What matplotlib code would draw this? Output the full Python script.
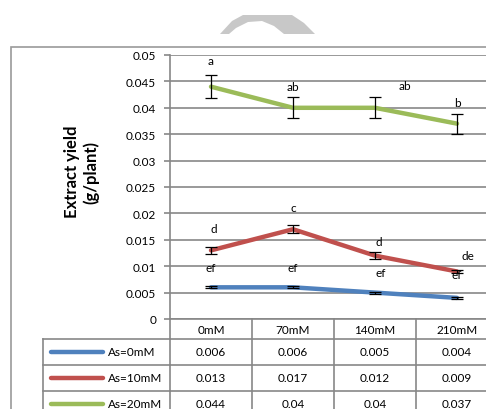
import numpy as np
import matplotlib
matplotlib.use('Agg')
import matplotlib.pyplot as plt
from matplotlib.patches import Polygon, Rectangle
from matplotlib.lines import Line2D

plt.rcParams['font.family'] = ['Lato', 'DejaVu Sans']

categories = ['0mM', '70mM', '140mM', '210mM']
series_names = ['As=0mM', 'As=10mM', 'As=20mM']
as0 = [0.006, 0.006, 0.005, 0.004]
as10 = [0.013, 0.017, 0.012, 0.009]
as20 = [0.044, 0.04, 0.04, 0.037]
err0 = [0.0002, 0.0002, 0.0002, 0.0002]
err10 = [0.0006, 0.0008, 0.0006, 0.0003]
err20 = [0.0022, 0.002, 0.002, 0.0019]
colors = ['#4F81BD', '#C0504D', '#9BBB59']

# significance letters: (text, category index, x shift, y)
letters = [
    ('a', 0, 0.0, 0.0489), ('ab', 1, 0.0, 0.0441), ('ab', 2, 0.37, 0.0442), ('b', 3, 0.0, 0.0410),
    ('d', 0, 0.03, 0.0172), ('c', 1, 0.0, 0.0211), ('d', 2, 0.05, 0.0146), ('de', 3, 0.13, 0.0121),
    ('ef', 0, 0.0, 0.0097), ('ef', 1, 0.0, 0.0098), ('ef', 2, 0.07, 0.0089), ('ef', 3, 0.0, 0.0085),
]

W, H = 486, 410
fig = plt.figure(figsize=(W / 100, H / 100), dpi=100)


def fx(x):
    return x / W


def fy(y):
    return 1 - y / H


grid = '#878787'
fs = 8.5

# decorative gray arc at top
arc = Polygon([(fx(220), fy(35)), (fx(232), fy(22)), (fx(243), fy(16)), (fx(292), fy(16)),
               (fx(304), fy(24)), (fx(315), fy(35)), (fx(284), fy(35)), (fx(274), fy(27)),
               (fx(262), fy(22)), (fx(248), fy(23)), (fx(236), fy(29)), (fx(229), fy(35))],
              closed=True, transform=fig.transFigure, facecolor='#C8C8C8', edgecolor='none')
fig.patches.append(arc)

# outer chart box
fig.patches.append(Rectangle((fx(11), fy(420)), fx(500), fy(48) - fy(420), transform=fig.transFigure,
                             facecolor='none', edgecolor='#9A9A9A', linewidth=1.2))

left, right, top, bottom = 170, 498, 56, 320
ax = fig.add_axes([fx(left), fy(bottom), fx(right - left), fy(top) - fy(bottom)])
x = np.arange(len(categories))
ax.set_xlim(-0.5, 3.5)
ax.set_ylim(0, 0.05)
ax.set_yticks(np.arange(0, 0.0501, 0.005))
ax.set_yticklabels(['0', '0.005', '0.01', '0.015', '0.02', '0.025', '0.03', '0.035', '0.04', '0.045', '0.05'])
ax.tick_params(axis='y', labelsize=fs, length=4, color=grid, width=1.2, pad=6)
ax.set_xticks([])
for s in ['top', 'right', 'bottom']:
    ax.spines[s].set_visible(False)
ax.spines['left'].set_color(grid)
ax.spines['left'].set_linewidth(1.2)
ax.yaxis.grid(True, color=grid, linewidth=1.2)
ax.set_axisbelow(True)

for vals, errs, c in zip([as0, as10, as20], [err0, err10, err20], colors):
    ax.plot(x, vals, color=c, linewidth=3.2, solid_capstyle='round', zorder=3)
    ax.errorbar(x, vals, yerr=errs, fmt='none', ecolor='black', elinewidth=0.9, capsize=4, capthick=0.9, zorder=4)

for txt, i, dx, yv in letters:
    ax.text(i + dx, yv, txt, ha='center', va='center', fontsize=fs, zorder=5)

ax.set_ylabel('Extract yield\n(g/plant)', fontsize=12, fontweight='bold', linespacing=1.25)
ax.yaxis.set_label_coords(-0.215, 0.56)

# data table below axes
h = bottom - top
ay = lambda ypix: (bottom - ypix) / h
tab = ax.get_xaxis_transform()
kw = dict(color=grid, linewidth=1.2, clip_on=False)
row_edges = [320, 340, 366, 392, 418]
ax.add_line(Line2D([-0.5, 3.5], [ay(320)] * 2, transform=tab, **kw))
for yp in row_edges[1:]:
    ax.add_line(Line2D([-0.5, 3.5], [ay(yp)] * 2, transform=tab, **kw))
    fig.add_artist(Line2D([fx(43), fx(left)], [fy(yp)] * 2, **kw))
for xv in np.arange(-0.5, 3.6, 1.0):
    ax.add_line(Line2D([xv, xv], [ay(320), ay(418)], transform=tab, **kw))
fig.add_artist(Line2D([fx(43), fx(43)], [fy(340), fy(418)], **kw))

for i, cat in enumerate(categories):
    ax.text(i, ay(330), cat, transform=tab, ha='center', va='center', fontsize=fs)
for r, (name, vals, c) in enumerate(zip(series_names, [as0, as10, as20], colors)):
    yc = (row_edges[r + 1] + row_edges[r + 2]) / 2
    fig.add_artist(Line2D([fx(51), fx(103)], [fy(yc)] * 2, color=c, linewidth=3.2, solid_capstyle='round'))
    fig.text(fx(108), fy(yc), name, ha='left', va='center', fontsize=fs)
    for i, v in enumerate(vals):
        ax.text(i, ay(yc), f'{v:g}', transform=tab, ha='center', va='center', fontsize=fs)

fig.savefig('out.png', dpi=100)
